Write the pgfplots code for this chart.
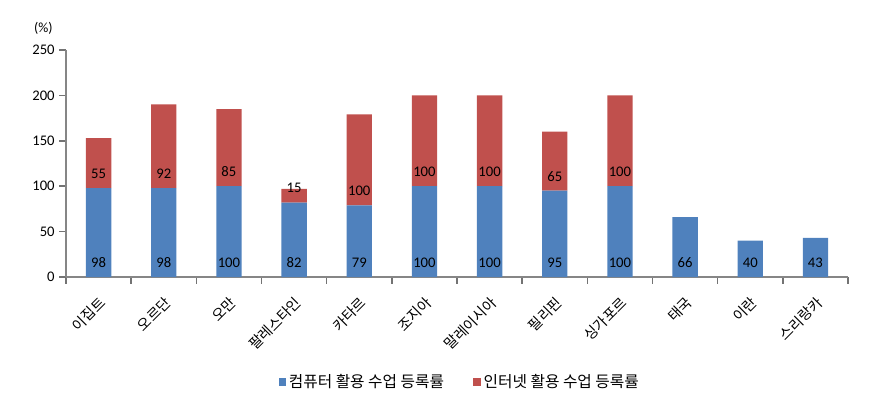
\documentclass[border=0pt]{standalone}
\usepackage{fontspec}
\setmainfont{Carlito}
\newfontfamily\kr{Noto Sans CJK KR}
\usepackage{pgfplots}
\pgfplotsset{compat=1.18}
\definecolor{cblue}{HTML}{4F81BD}
\definecolor{cred}{HTML}{C0504D}
\definecolor{axgray}{HTML}{868686}
\tikzset{vl/.style={font=\fontsize{11}{13}\selectfont, inner sep=0pt, text=black}}
\begin{document}
\begin{tikzpicture}
\path[use as bounding box] (-49.5pt,-94.5pt) rectangle (609pt,207.75pt);
\begin{axis}[
  at={(0,0)}, anchor=south west,
  scale only axis, width=586.5pt, height=170.25pt,
  ybar stacked, bar width=19pt,
  xmin=-0.5, xmax=11.5, ymin=0, ymax=250,
  ytick={0,50,100,150,200,250},
  xtick={-0.5,0.5,1.5,2.5,3.5,4.5,5.5,6.5,7.5,8.5,9.5,10.5,11.5},
  x tick label as interval,
  xticklabels={이집트,오르단,오만,팔레스타인,카타르,조지아,말레이시아,필리핀,싱가포르,태국,이란,스리랑카},
  xticklabel style={font=\kr\fontsize{10.8}{12}\selectfont, rotate=45, anchor=east, yshift=-11pt, xshift=-3pt},
  yticklabel style={font=\fontsize{11}{13}\selectfont},
  /pgf/number format/assume math mode=true,
  axis x line*=bottom, axis y line*=left,
  x axis line style={-, draw=axgray, line width=2pt},
  y axis line style={-, draw=axgray, line width=1.3pt},
  xmajorticks=true, ymajorticks=true,
  xtick pos=bottom, ytick pos=left,
  xtick align=outside, ytick align=outside,
  major tick length=5pt,
  every tick/.style={draw=black!55, line width=1.1pt},
  area legend,
  legend image code/.code={\fill[#1] (0pt,-2.8pt) rectangle (5.6pt,2.8pt);},
  legend style={at={(0.504,-0.4626)}, anchor=center, draw=none, fill=none,
    legend columns=2, font=\kr\fontsize{11.8}{13}\selectfont,
    /tikz/every even column/.append style={column sep=20pt}},
  legend cell align=left,
  clip=false,
]
\addplot[fill=cblue, draw=none]
  coordinates {(0,98) (1,98) (2,100) (3,82) (4,79) (5,100) (6,100) (7,95) (8,100) (9,66) (10,40) (11,43)};
\addlegendentry{컴퓨터 활용 수업 등록률}
\addplot[fill=cred, draw=none]
  coordinates {(0,55) (1,92) (2,85) (3,15) (4,100) (5,100) (6,100) (7,65) (8,100) (9,0) (10,0) (11,0)};
\addlegendentry{인터넷 활용 수업 등록률}
\node[font=\fontsize{10.5}{12}\selectfont] at (rel axis cs:-0.029,1.095) {(\%)};
\end{axis}
\begin{axis}[
  at={(0,0)}, anchor=south west,
  scale only axis, width=586.5pt, height=170.25pt,
  xmin=-0.5, xmax=11.5, ymin=0, ymax=250,
  hide axis, clip=false,
]
\node[vl] at (axis cs:0,15.5) {98};
\node[vl] at (axis cs:1,15.5) {98};
\node[vl] at (axis cs:2,15.5) {100};
\node[vl] at (axis cs:3,15.5) {82};
\node[vl] at (axis cs:4,15.5) {79};
\node[vl] at (axis cs:5,15.5) {100};
\node[vl] at (axis cs:6,15.5) {100};
\node[vl] at (axis cs:7,15.5) {95};
\node[vl] at (axis cs:8,15.5) {100};
\node[vl] at (axis cs:9,15.5) {66};
\node[vl] at (axis cs:10,15.5) {40};
\node[vl] at (axis cs:11,15.5) {43};
\node[vl] at (axis cs:0,114) {55};
\node[vl] at (axis cs:1,114) {92};
\node[vl] at (axis cs:2,116) {85};
\node[vl] at (axis cs:3,98) {15};
\node[vl] at (axis cs:4,95) {100};
\node[vl] at (axis cs:5,116) {100};
\node[vl] at (axis cs:6,116) {100};
\node[vl] at (axis cs:7,111) {65};
\node[vl] at (axis cs:8,116) {100};
\end{axis}
\end{tikzpicture}
\end{document}
